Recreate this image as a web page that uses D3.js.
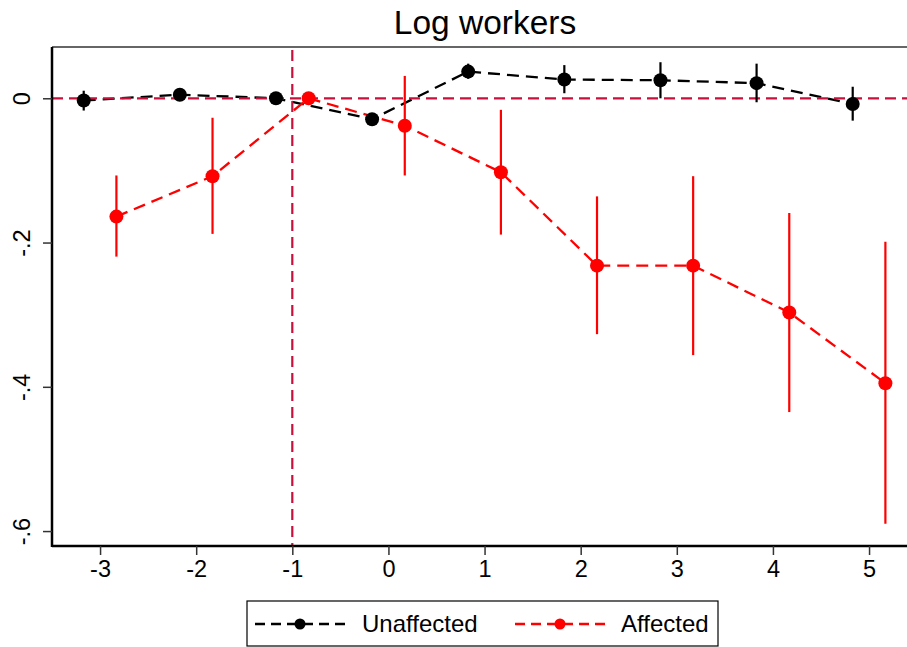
<!DOCTYPE html>
<html>
<head>
<meta charset="utf-8">
<script src="https://cdn.jsdelivr.net/npm/d3@7"></script>
<style>
  body { margin: 0; background: #fff; }
  svg { display: block; font-family: "Liberation Sans", Arial, sans-serif; }
</style>
</head>
<body>
<svg id="chart" width="907" height="647"></svg>
<script>
// ---- data ----
const title = "Log workers";
const periods = [-3, -2, -1, 0, 1, 2, 3, 4, 5];
const unaffected   = [-0.003, 0.005, 0, -0.029, 0.037, 0.026, 0.025, 0.021, -0.008];
const unaffectedLo = [-0.017, 0.001, 0, -0.033, 0.027, 0.007, 0.000, -0.0055, -0.031];
const unaffectedHi = [0.0105, 0.009, 0, -0.025, 0.048, 0.046, 0.050, 0.048, 0.016];
const affected   = [-0.164, -0.108, 0, -0.038, -0.1025, -0.232, -0.232, -0.297, -0.395];
const affectedLo = [-0.2195, -0.188, 0, -0.107, -0.189, -0.327, -0.356, -0.435, -0.590];
const affectedHi = [-0.107, -0.027, 0, 0.031, -0.016, -0.136, -0.108, -0.159, -0.199];
const xTicks = [-3, -2, -1, 0, 1, 2, 3, 4, 5];
const yTicks = [0, -0.2, -0.4, -0.6];
const yTickLabels = ["0", "-.2", "-.4", "-.6"];
const seriesNames = ["Unaffected", "Affected"];
const refX = -1, refY = 0;

// ---- layout ----
const svg = d3.select("#chart");
const pLeft = 52, pRight = 907.5, pTop = 47, pBottom = 546;
const x = d3.scaleLinear().domain([-3.5, 5.4]).range([pLeft, pRight]);
const y = d3.scaleLinear().domain([-0.6207, 0.0711]).range([pBottom, pTop]);
const offset = 0.17;

const series = [
  { name: seriesNames[0], color: "#000000", dx: -offset, v: unaffected, lo: unaffectedLo, hi: unaffectedHi },
  { name: seriesNames[1], color: "#ff0000", dx: offset, v: affected, lo: affectedLo, hi: affectedHi }
];
const refColor = "#c8103c";

// title
svg.append("text").attr("x", 485).attr("y", 34).attr("text-anchor", "middle")
  .attr("font-size", 33.5).attr("fill", "#000").text(title);

// frame top line
svg.append("line").attr("x1", pLeft).attr("x2", 907).attr("y1", pTop).attr("y2", pTop)
  .attr("stroke", "#333").attr("stroke-width", 1.5);

// series lines
const line = d3.line();
series.forEach(s => {
  svg.append("path")
    .attr("d", line(periods.map((p, i) => [x(p + s.dx), y(s.v[i])])))
    .attr("fill", "none").attr("stroke", s.color).attr("stroke-width", 2.3)
    .attr("stroke-dasharray", "12,7");
});

// reference lines
svg.append("line").attr("x1", pLeft).attr("x2", 907).attr("y1", y(refY)).attr("y2", y(refY))
  .attr("stroke", refColor).attr("stroke-width", 2.2).attr("stroke-dasharray", "11,6");
svg.append("line").attr("x1", x(refX)).attr("x2", x(refX)).attr("y1", pTop + 3).attr("y2", pBottom)
  .attr("stroke", refColor).attr("stroke-width", 2.2).attr("stroke-dasharray", "11,6");

// error bars and markers
series.forEach(s => {
  const g = svg.append("g");
  periods.forEach((p, i) => {
    if (s.lo[i] !== s.hi[i]) {
      g.append("line").attr("x1", x(p + s.dx)).attr("x2", x(p + s.dx))
        .attr("y1", y(s.lo[i])).attr("y2", y(s.hi[i]))
        .attr("stroke", s.color).attr("stroke-width", 2.2);
    }
  });
  periods.forEach((p, i) => {
    g.append("circle").attr("cx", x(p + s.dx)).attr("cy", y(s.v[i])).attr("r", 7)
      .attr("fill", s.color);
  });
});

// axes
const xAxis = d3.axisBottom(x).tickValues(xTicks).tickSize(9).tickPadding(5).tickFormat(d3.format("d"));
const gx = svg.append("g").attr("transform", `translate(0,${pBottom})`).call(xAxis);
gx.select(".domain").attr("d", `M${pLeft},0H907`).attr("stroke", "#000").attr("stroke-width", 2.5);
gx.selectAll(".tick line").attr("stroke", "#333").attr("stroke-width", 1.5);
gx.selectAll(".tick text").attr("font-size", 23.5).attr("fill", "#000")
  .attr("font-family", "Liberation Sans, Arial, sans-serif").text(d => d < 0 ? "-" + Math.abs(d) : d);

const yAxis = d3.axisLeft(y).tickValues(yTicks).tickSize(9).tickFormat((d, i) => yTickLabels[i]);
const gy = svg.append("g").attr("transform", `translate(${pLeft},0)`).call(yAxis);
gy.select(".domain").attr("d", `M0,${pTop}V${pBottom + 1}`).attr("stroke", "#000").attr("stroke-width", 2.5);
gy.selectAll(".tick line").attr("stroke", "#333").attr("stroke-width", 1.5);
gy.selectAll(".tick text").attr("font-size", 23.5).attr("fill", "#000")
  .attr("font-family", "Liberation Sans, Arial, sans-serif")
  .attr("x", null).attr("dy", null).attr("text-anchor", "middle")
  .attr("transform", "translate(-22,0) rotate(-90)");

// legend
const lg = svg.append("g");
lg.append("rect").attr("x", 247).attr("y", 601).attr("width", 471).attr("height", 45)
  .attr("fill", "#fff").attr("stroke", "#000").attr("stroke-width", 1.2);
const legendItems = [
  { s: series[0], x0: 255, tx: 362 },
  { s: series[1], x0: 515, tx: 621 }
];
legendItems.forEach(it => {
  lg.append("line").attr("x1", it.x0).attr("x2", it.x0 + 92).attr("y1", 624).attr("y2", 624)
    .attr("stroke", it.s.color).attr("stroke-width", 2.3).attr("stroke-dasharray", "10,6");
  lg.append("circle").attr("cx", it.x0 + 45).attr("cy", 624).attr("r", 5.5).attr("fill", it.s.color);
  lg.append("text").attr("x", it.tx).attr("y", 632).attr("font-size", 24).attr("fill", "#000")
    .text(it.s.name);
});
</script>
</body>
</html>
